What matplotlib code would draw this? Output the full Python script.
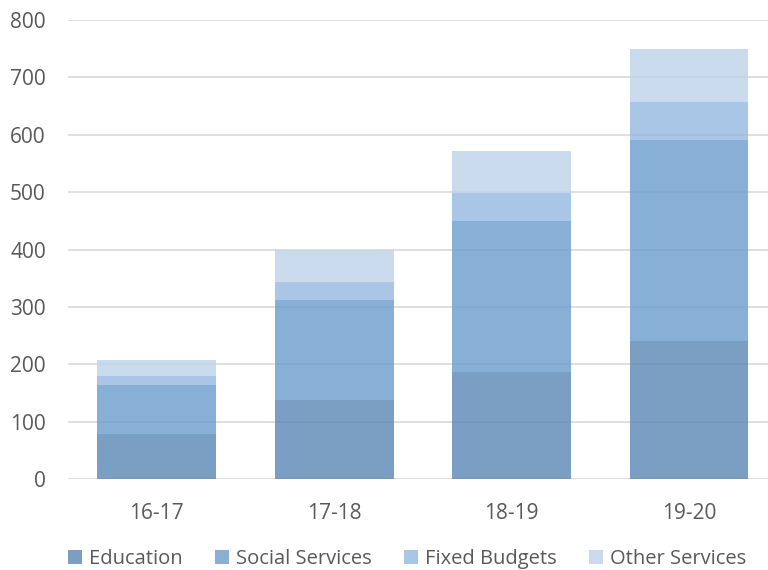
import matplotlib
matplotlib.use("Agg")
import matplotlib.pyplot as plt
import numpy as np

plt.rcParams['font.family'] = ['Open Sans', 'DejaVu Sans']

years = ['16-17', '17-18', '18-19', '19-20']
education = [79, 137, 186, 240]
social = [84, 175, 263, 350]
fixed = [16, 32, 50, 67]
other = [29, 56, 73, 93]

names = ['Education', 'Social Services', 'Fixed Budgets', 'Other Services']
colors = ['#5a87b3', '#6a9cce', '#95b8e0', '#bfd3ea']
txt = '#595959'

fig = plt.figure(figsize=(7.68, 5.70), dpi=100)
ax = fig.add_axes([68/768, 1 - 479/570, 700/768, 459/570])

x = np.arange(len(years))
bottom = np.zeros(len(years))
for vals, nm, c in zip([education, social, fixed, other], names, colors):
    ax.bar(x, vals, width=0.67, bottom=bottom, color=c, alpha=0.8,
           label=nm, zorder=3, edgecolor='none')
    bottom += np.array(vals)

ax.set_ylim(0, 800)
ax.set_xlim(-0.5, 3.445)
ax.set_yticks(range(0, 801, 100))
ax.set_xticks(x)
ax.set_xticklabels(years)
ax.grid(axis='y', color='#d9d9d9', linewidth=1.2, zorder=0)
ax.set_axisbelow(True)
for s in ax.spines.values():
    s.set_visible(False)
ax.tick_params(length=0, labelsize=15, colors=txt)
ax.tick_params(axis='x', pad=17)
ax.tick_params(axis='y', pad=16)

fig.legend(loc='lower center', ncol=4, frameon=False, fontsize=14.5,
           labelcolor=txt, handlelength=0.7, handleheight=0.7,
           handletextpad=0.35, columnspacing=1.6, bbox_to_anchor=(0.530, -0.03))

fig.savefig('out.png', dpi=100)
